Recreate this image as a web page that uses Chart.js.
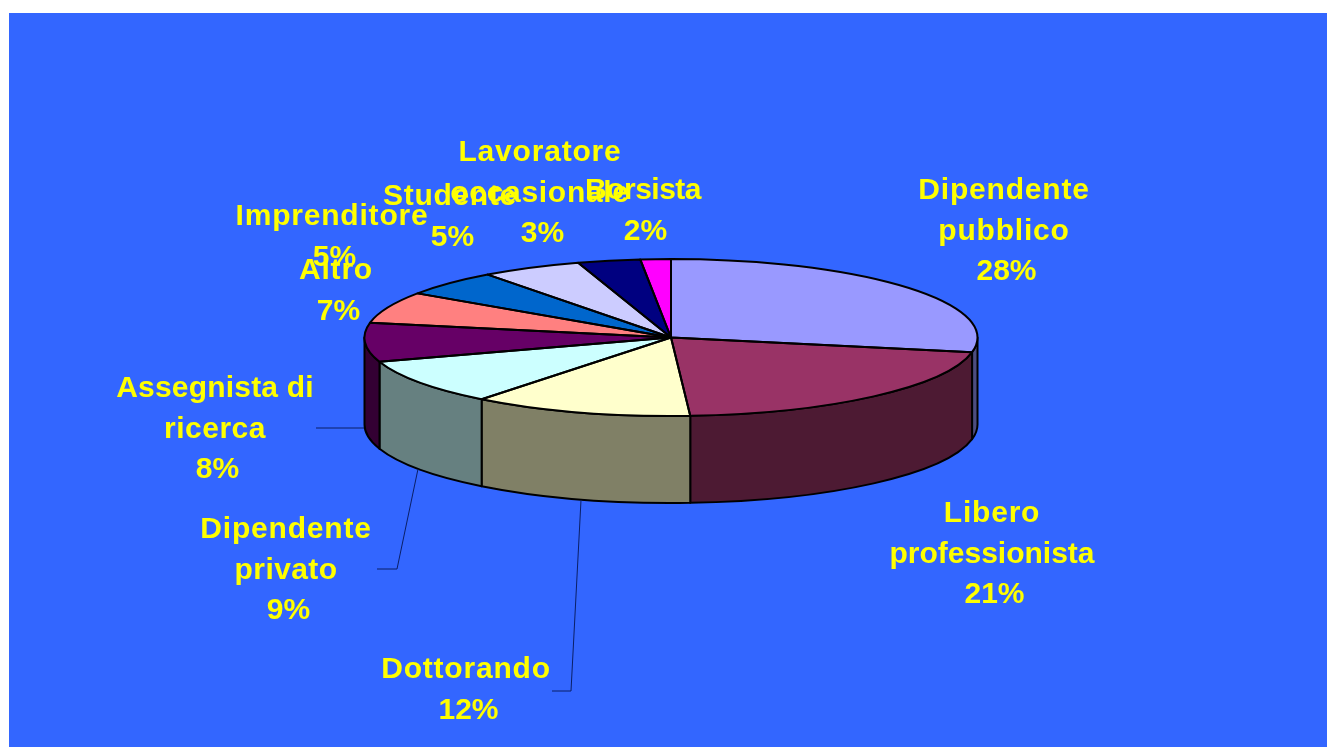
<!DOCTYPE html>
<html>
<head>
<meta charset="utf-8">
<title>Posizione lavorativa</title>
<script src="https://cdn.jsdelivr.net/npm/chart.js@4"></script>
<style>
    html, body { margin: 0; padding: 0; background: #ffffff; overflow: hidden; }
    canvas { display: block; }
</style>
</head>
<body>
<canvas id="pie" width="1327" height="747"></canvas>
<script>
const categories = [
    'Dipendente\npubblico', 'Libero\nprofessionista', 'Dottorando', 'Dipendente\nprivato',
    'Assegnista di\nricerca', 'Altro', 'Imprenditore', 'Studente',
    'Lavoratore\noccasionale', 'Borsista'
];
// slice sizes, the labels show them rounded
const shares = [28, 21, 11.6, 9.4, 8, 6.5, 5.3, 5.3, 3.3, 1.6];
const topColors = ['#9999FF', '#993366', '#FFFFCC', '#CCFFFF', '#660066', '#FF8080', '#0066CC', '#CCCCFF', '#000080', '#FF00FF'];
const sideColors = ['#4D4D80', '#4D1A33', '#808066', '#668080', '#330033', '#804040', '#003366', '#666680', '#000040', '#800080'];

// label placement: centre x, first line y, letter gap per line
const labelX = [1004, 992, 466, 286, 215, 336, 332, 450, 540, 643];
const labelY = [191, 514, 670, 530, 389, 271, 217, 197, 153, 191];
const labelGaps = [[0.8, 0.8], [0.8, 0], [0.8], [0.8, 0.4], [0.2, 0.5], [0.8], [0.8], [0.7], [0.8, 0.7], [-0.5]];
const leaderLines = [
    [[316, 428], [364, 428]],
    [[418, 469], [397, 569], [377, 569]],
    [[581, 500], [571, 691], [552, 691]]
];

const squash = 78.5 / 306.5;
const depth = 87;
const penWidth = 2;

function arcProps(chart) {
    return chart.getDatasetMeta(0).data.map(a => a.getProps(['x', 'y', 'startAngle', 'endAngle', 'outerRadius'], true));
}

const pie3d = {
    id: 'pie3d',
    beforeDraw(chart) {
        const ctx = chart.ctx;
        ctx.save();
        ctx.fillStyle = '#ffffff';
        ctx.fillRect(0, 0, chart.width, chart.height);
        ctx.fillStyle = '#3366FF';
        ctx.fillRect(9, 13, chart.width - 9, chart.height - 13);
        ctx.restore();
    },
    beforeDatasetsDraw(chart) {
        const ctx = chart.ctx;
        // side wall, only the front half of the ellipse shows
        arcProps(chart).forEach((a, i) => {
            const from = Math.max(a.startAngle, 0);
            const to = Math.min(a.endAngle, Math.PI);
            if (to <= from) return;
            const rx = a.outerRadius, ry = rx * squash;
            ctx.save();
            ctx.beginPath();
            ctx.ellipse(a.x, a.y, rx, ry, 0, from, to);
            ctx.lineTo(a.x + rx * Math.cos(to), a.y + ry * Math.sin(to) + depth);
            ctx.ellipse(a.x, a.y + depth, rx, ry, 0, to, from, true);
            ctx.closePath();
            ctx.fillStyle = sideColors[i];
            ctx.fill();
            ctx.lineWidth = penWidth;
            ctx.strokeStyle = '#000000';
            ctx.lineJoin = 'round';
            ctx.stroke();
            ctx.restore();
        });
        // flatten the library's arcs into the top face
        const c = arcProps(chart)[0];
        ctx.save();
        ctx.translate(c.x, c.y);
        ctx.scale(1, squash);
        ctx.translate(-c.x, -c.y);
    },
    afterDatasetsDraw(chart) {
        const ctx = chart.ctx;
        ctx.restore();

        // outline after the restore so the pen stays round
        arcProps(chart).forEach(a => {
            const rx = a.outerRadius, ry = rx * squash;
            ctx.save();
            ctx.beginPath();
            ctx.moveTo(a.x, a.y);
            ctx.ellipse(a.x, a.y, rx, ry, 0, a.startAngle, a.endAngle);
            ctx.closePath();
            ctx.lineWidth = penWidth;
            ctx.strokeStyle = '#000000';
            ctx.lineJoin = 'round';
            ctx.stroke();
            ctx.restore();
        });

        ctx.save();
        ctx.strokeStyle = '#0A1F66';
        ctx.lineWidth = 1;
        leaderLines.forEach(pts => {
            ctx.beginPath();
            pts.forEach((p, i) => i ? ctx.lineTo(p[0], p[1]) : ctx.moveTo(p[0], p[1]));
            ctx.stroke();
        });
        ctx.restore();

        ctx.save();
        ctx.font = 'bold 30px "Liberation Sans", Arial, sans-serif';
        ctx.fillStyle = '#FFFF00';
        ctx.textAlign = 'center';
        ctx.textBaseline = 'middle';
        categories.forEach((name, i) => {
            const lines = name.split('\n');
            lines.forEach((line, j) => {
                ctx.letterSpacing = labelGaps[i][j] + 'px';
                ctx.fillText(line, labelX[i], labelY[i] + j * 40.5);
            });
            ctx.letterSpacing = '0px';
            ctx.fillText(Math.round(shares[i]) + '%', labelX[i] + 2.5, labelY[i] + lines.length * 40.5);
        });
        ctx.restore();
    }
};

new Chart(document.getElementById('pie').getContext('2d'), {
    type: 'pie',
    data: {
        labels: categories,
        datasets: [{
            data: shares,
            backgroundColor: topColors,
            borderWidth: 0
        }]
    },
    options: {
        responsive: false,
        animation: false,
        layout: { padding: { left: 364.5, right: 349.5, top: 31, bottom: 103 } },
        plugins: { legend: { display: false }, tooltip: { enabled: false } }
    },
    plugins: [pie3d]
});
</script>
</body>
</html>
